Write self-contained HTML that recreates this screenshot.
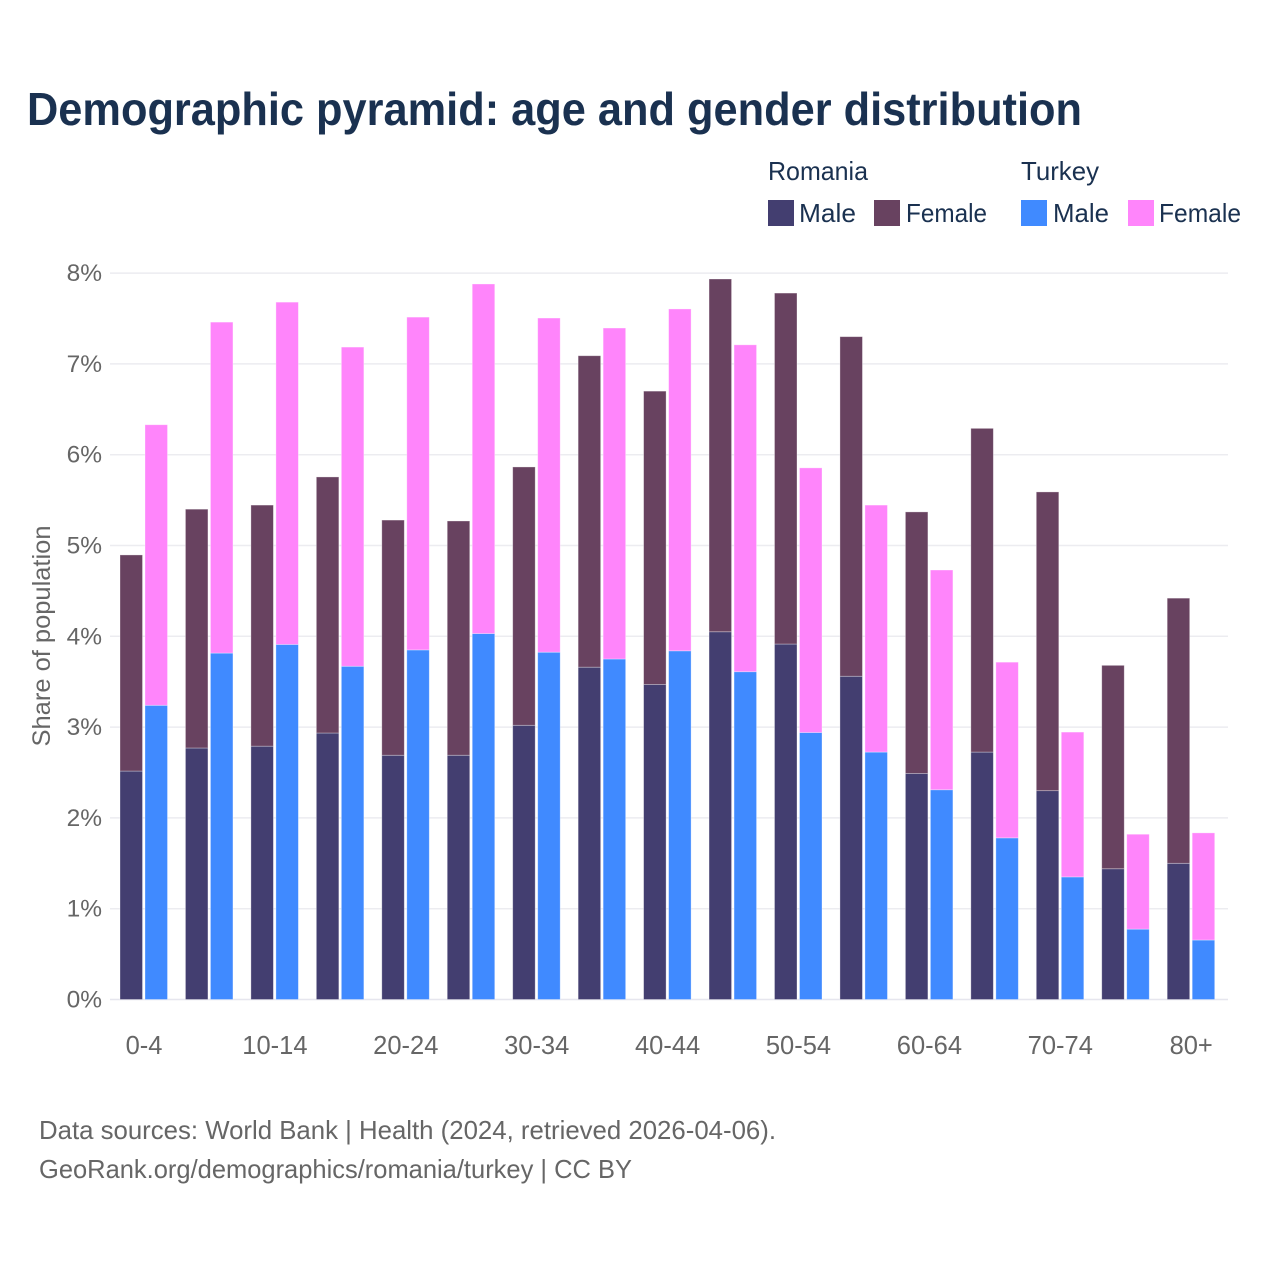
<!DOCTYPE html>
<html lang="en">
<head>
<meta charset="utf-8">
<title>Demographic pyramid: age and gender distribution</title>
<style>
html,body{margin:0;padding:0;background:#fff;}
svg{display:block;font-family:"Liberation Sans",sans-serif;}
</style>
</head>
<body>
<svg id="chart" width="1280" height="1280" viewBox="0 0 1280 1280" xmlns="http://www.w3.org/2000/svg">
  <rect width="1280" height="1280" fill="#ffffff"/>
  <text x="27" y="125" font-size="46" font-weight="700" fill="#1a3150" textLength="1055" lengthAdjust="spacingAndGlyphs">Demographic pyramid: age and gender distribution</text>

  <g font-size="26" fill="#1a3150">
    <text x="768" y="180" textLength="100" lengthAdjust="spacingAndGlyphs">Romania</text>
    <text x="1021" y="180" textLength="78" lengthAdjust="spacingAndGlyphs">Turkey</text>
    <rect x="768" y="200" width="26" height="26" fill="#433e70"/>
    <text x="799" y="222" textLength="57" lengthAdjust="spacingAndGlyphs">Male</text>
    <rect x="874" y="200" width="26" height="26" fill="#684260"/>
    <text x="906" y="222" textLength="81" lengthAdjust="spacingAndGlyphs">Female</text>
    <rect x="1021" y="200" width="26" height="26" fill="#408aff"/>
    <text x="1053" y="222" textLength="56" lengthAdjust="spacingAndGlyphs">Male</text>
    <rect x="1128" y="200" width="26" height="26" fill="#ff85fb"/>
    <text x="1159" y="222" textLength="82" lengthAdjust="spacingAndGlyphs">Female</text>
  </g>

  <g id="grid"></g>
  <g id="y-ticks" font-size="24.5" fill="#666666" text-anchor="end"></g>
  <g id="bars"></g>
  <g id="x-ticks" font-size="25.5" fill="#666666" text-anchor="middle"></g>

  <text transform="translate(50,636) rotate(-90)" font-size="25" fill="#666666" text-anchor="middle" textLength="221" lengthAdjust="spacingAndGlyphs">Share of population</text>

  <g font-size="26" fill="#666666">
    <text x="39" y="1139" textLength="737" lengthAdjust="spacingAndGlyphs">Data sources: World Bank | Health (2024, retrieved 2026-04-06).</text>
    <text x="39" y="1178" textLength="593" lengthAdjust="spacingAndGlyphs">GeoRank.org/demographics/romania/turkey | CC BY</text>
  </g>
</svg>
<script>
const categories = ["0-4","5-9","10-14","15-19","20-24","25-29","30-34","35-39","40-44","45-49","50-54","55-59","60-64","65-69","70-74","75-79","80+"];
const xTickLabels = ["0-4","","10-14","","20-24","","30-34","","40-44","","50-54","","60-64","","70-74","","80+"];
const yTickValues = [0,1,2,3,4,5,6,7,8];
const romaniaMale = [2.516,2.77,2.79,2.935,2.69,2.69,3.02,3.66,3.47,4.05,3.915,3.56,2.49,2.725,2.30,1.44,1.50];
const romaniaFemale = [2.38,2.63,2.655,2.82,2.59,2.58,2.845,3.43,3.23,3.885,3.865,3.74,2.88,3.565,3.29,2.24,2.92];
const turkeyMale = [3.24,3.815,3.91,3.67,3.85,4.03,3.825,3.75,3.84,3.61,2.94,2.725,2.31,1.78,1.35,0.775,0.655];
const turkeyFemale = [3.09,3.645,3.77,3.515,3.665,3.85,3.68,3.645,3.765,3.60,2.915,2.72,2.42,1.935,1.595,1.045,1.18];

const NS = "http://www.w3.org/2000/svg";
const xScale = function (i) { return 144 + i * 65.45; };
const yScale = function (v) { return 999.5 - v * 90.8; };
const barWidth = 22.5;

const gridGroup = document.getElementById("grid");
const yTickGroup = document.getElementById("y-ticks");
yTickValues.forEach(function (v) {
  const line = document.createElementNS(NS, "line");
  
  
  line.setAttribute("x1", 110);
  line.setAttribute("x2", 1228);
  line.setAttribute("y1", yScale(v));
  line.setAttribute("y2", yScale(v));
  line.setAttribute("stroke", v === 0 ? "#e6e6ee" : "#ececf0");
  line.setAttribute("stroke-width", 1.5);
  gridGroup.appendChild(line);

  const label = document.createElementNS(NS, "text");
  
  
  label.setAttribute("x", 102);
  label.setAttribute("y", yScale(v) + 8);
  label.textContent = v + "%";
  yTickGroup.appendChild(label);
});

function addBar(parent, x, base, value, fill, name) {
  const rect = document.createElementNS(NS, "rect");
  
  
  rect.setAttribute("x", x);
  rect.setAttribute("y", yScale(base + value));
  rect.setAttribute("width", barWidth);
  rect.setAttribute("height", yScale(base) - yScale(base + value));
  rect.setAttribute("fill", fill);
  rect.setAttribute("stroke", "rgba(255,255,255,0.4)");
  rect.setAttribute("stroke-width", 0.8);
  parent.appendChild(rect);
}

const barGroup = document.getElementById("bars");
const xTickGroup = document.getElementById("x-ticks");
categories.forEach(function (cat, i) {
  const c = xScale(i);
  addBar(barGroup, c - 24, 0, romaniaMale[i], "#433e70", "bar-romania-male-" + cat);
  addBar(barGroup, c - 24, romaniaMale[i], romaniaFemale[i], "#684260", "bar-romania-female-" + cat);
  addBar(barGroup, c + 1, 0, turkeyMale[i], "#408aff", "bar-turkey-male-" + cat);
  addBar(barGroup, c + 1, turkeyMale[i], turkeyFemale[i], "#ff85fb", "bar-turkey-female-" + cat);
  if (xTickLabels[i]) {
    const label = document.createElementNS(NS, "text");
    
    
    label.setAttribute("x", c);
    label.setAttribute("y", 1054);
    label.textContent = xTickLabels[i];
    xTickGroup.appendChild(label);
  }
});
</script>
</body>
</html>
